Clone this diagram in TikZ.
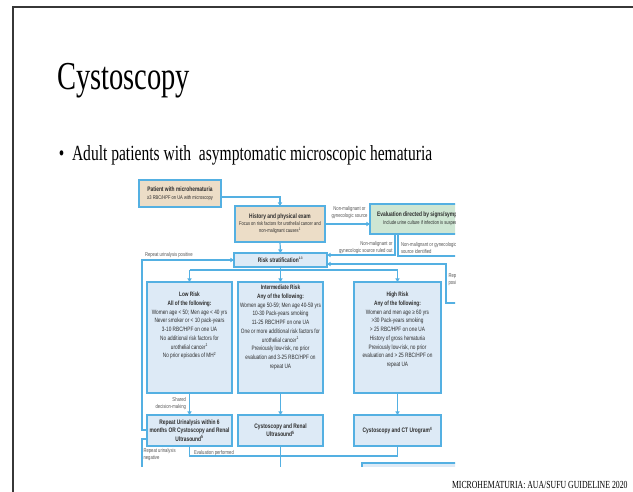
\documentclass[tikz,border=0pt]{standalone}
\usepackage{fontspec}
\setmainfont{Liberation Serif}[FakeStretch=0.72]
\newfontfamily\chartfont{Liberation Sans}[FakeStretch=0.75]
\usetikzlibrary{arrows.meta}
\definecolor{flowblue}{RGB}{84,176,226}
\definecolor{boxblue}{RGB}{221,234,246}
\definecolor{boxtan}{RGB}{236,221,199}
\definecolor{boxgreen}{RGB}{206,230,211}
\definecolor{inktext}{RGB}{45,45,45}
\definecolor{labelgray}{RGB}{85,85,85}
\definecolor{framegray}{RGB}{55,55,55}
\newcommand\fcsmall{\fontsize{5.4}{7.2}\selectfont\mdseries}
\begin{document}
\begin{tikzpicture}[x=1pt,y=-1pt,
  every node/.style={inner sep=0pt,outer sep=0pt},
  fbox/.style={draw=flowblue,line width=1.1pt,fill=boxblue,text=inktext,align=center,
    font=\chartfont\bfseries\fontsize{6.5}{8.2}\selectfont},
  tanbox/.style={fbox,fill=boxtan},
  greenbox/.style={fbox,fill=boxgreen},
  risktext/.style={anchor=north,align=center,text=inktext,
    font=\chartfont\fontsize{6.3}{8.7}\selectfont},
  lbl/.style={text=labelgray,font=\chartfont\fontsize{5.6}{7}\selectfont},
  wire/.style={draw=flowblue,line width=1.2pt},
  arr/.style={wire,-{Triangle[length=3.6pt,width=4.2pt]}}
]
\useasboundingbox (0,0) rectangle (633,491);

% slide frame
\draw[framegray,line width=1.6pt] (12.8,495) -- (12.8,6.8) -- (640,6.8);

% slide title and bullet
\node[anchor=base west,font=\fontsize{39.6}{40}\selectfont] (title) at (57,89) {Cystoscopy};
\node[anchor=base west,font=\fontsize{21.6}{22}\selectfont] (bullet) at (59,160) {\textbullet};
\node[anchor=base west,font=\fontsize{21.6}{22}\selectfont] (subtitle) at (72,160)
  {Adult patients with \ asymptomatic microscopic hematuria};

% footer
\node[anchor=base west,font=\fontsize{10.8}{11}\selectfont] (footer) at (452,488.6)
  {MICROHEMATURIA: AUA/SUFU GUIDELINE 2020};

\begin{scope}
\clip (130,176) rectangle (455,466);

% boxes
\node[tanbox,minimum width=82pt,minimum height=27pt] (pat) at (180,193.5)
  {Patient with microhematuria\\[-0.5pt]{\fcsmall ≥3 RBC/HPF on UA with microscopy}};
\node[tanbox,minimum width=90pt,minimum height=36pt] (hist) at (280,224)
  {History and physical exam\\[-1pt]{\fcsmall Focus on risk factors for urothelial cancer and}\\[-1.2pt]
   {\fcsmall non-malignant causes\textsuperscript{1}}};
\node[greenbox,minimum width=106pt,minimum height=30pt] (green) at (423,219)
  {Evaluation directed by signs/symptoms\\[-0.5pt]{\fcsmall Include urine culture if infection is suspected}};
\node[fbox,minimum width=93pt,minimum height=14pt] (risk) at (280.5,260)
  {Risk stratification\textsuperscript{\fontsize{3.5}{4}\selectfont 1-3}};

\node[fbox,minimum width=85pt,minimum height=111pt] (low) at (189.5,337.5) {};
\node[fbox,minimum width=85pt,minimum height=111pt] (mid) at (280.5,337.5) {};
\node[fbox,minimum width=87pt,minimum height=111pt] (high) at (397.5,337.5) {};

\node[risktext] (lowtxt) at (189.5,292.3)
  {\textbf{Low Risk}\\\textbf{All of the following:}\\Women age < 50; Men age < 40 yrs\\
   Never smoker or < 10 pack-years\\3-10 RBC/HPF on one UA\\No additional risk factors for\\
   urothelial cancer\textsuperscript{1}\\No prior episodes of MH\textsuperscript{2}};
\node[risktext] (midtxt) at (280.5,285.3)
  {\textbf{Intermediate Risk}\\\textbf{Any of the following:}\\Women age 50-59; Men age 40-59 yrs\\
   10-30 Pack-years smoking\\11-25 RBC/HPF on one UA\\One or more additional risk factors for\\
   urothelial cancer\textsuperscript{1}\\Previously low-risk, no prior\\evaluation and 3-25 RBC/HPF on\\repeat UA};
\node[risktext] (hightxt) at (397.5,292.3)
  {\textbf{High Risk}\\\textbf{Any of the following:}\\Women and men age ≥ 60 yrs\\
   >30 Pack-years smoking\\> 25 RBC/HPF on one UA\\History of gross hematuria\\
   Previously low-risk, no prior\\evaluation and > 25 RBC/HPF on\\repeat UA};

\node[fbox,minimum width=85pt,minimum height=31pt] (rep) at (189.5,430.5)
  {Repeat Urinalysis within 6\\months OR Cystoscopy and Renal\\Ultrasound\textsuperscript{5}};
\node[fbox,minimum width=85pt,minimum height=31pt] (cr) at (280.5,430.5)
  {Cystoscopy and Renal\\Ultrasound\textsuperscript{5}};
\node[fbox,minimum width=87pt,minimum height=31pt] (ct) at (397.5,430.5)
  {Cystoscopy and CT Urogram\textsuperscript{4}};
\node[fbox,minimum width=118pt,minimum height=30pt] (next) at (421,478) {};

% free ends of connectors leaving the chart
\coordinate (identEnd) at (462,256);
\coordinate (loopEnd) at (462,303);
\coordinate (negEnd) at (142,472);
\coordinate (crEnd) at (280.5,472);

% connectors
\draw[arr] (pat.east |- 0,197) -| (hist.north);
\draw[arr] (hist.south) -- (risk.north);
\draw[arr] (hist.east) -- (green.west |- hist.east);
\draw[arr] (green.south -| 395,0) -- (395,255) -- (risk.east |- 0,255);
\draw[wire] (green.south -| 398,0) |- (identEnd);
\draw[arr] (loopEnd) -- (446,303) -- (446,264) -- (risk.east |- 0,264);

\draw[wire] (risk.south) -- (risk.south |- 0,270);
\draw[wire] (low.north |- 0,270) -- (high.north |- 0,270);
\draw[arr] (low.north |- 0,270) -- (low.north);
\draw[arr] (mid.north |- 0,270) -- (mid.north);
\draw[arr] (high.north |- 0,270) -- (high.north);

\draw[arr] (low.south) -- (rep.north);
\draw[arr] (mid.south) -- (cr.north);
\draw[arr] (high.south) -- (ct.north);

\draw[arr] (rep.west |- 0,430) -- (142,430) -- (142,260) -- (risk.west |- 0,260);
\draw[wire] (rep.west |- 0,439) -- (142,439) -- (negEnd);
\draw[wire] (rep.south) -- (rep.south |- 0,456) -| (ct.south);
\draw[wire] (cr.south) -- (crEnd);

% connector labels
\node[lbl,anchor=south,align=center] (lblSrc) at (349.5,218.5) {Non-malignant or\\gynecologic source};
\node[lbl,anchor=south east,align=right] (lblOut) at (392.5,253.8) {Non-malignant or\\gynecologic source ruled out};
\node[lbl,anchor=south west,align=left] (lblIdent) at (401,253.8) {Non-malignant or gynecologic\\source identified};
\node[lbl,anchor=south west] (lblPos) at (145,257.8) {Repeat urinalysis positive};
\node[lbl,anchor=north west,align=left] (lblPosR) at (448.5,273.5) {Repeat urinalysis\\positive};
\node[lbl,anchor=east,align=right] (lblShared) at (186,404) {Shared\\decision-making};
\node[lbl,anchor=north west,align=left] (lblNeg) at (143.5,448.5) {Repeat urinalysis\\negative};
\node[lbl,anchor=base west] (lblEval) at (194,454.3) {Evaluation performed};
\end{scope}
\end{tikzpicture}
\end{document}
